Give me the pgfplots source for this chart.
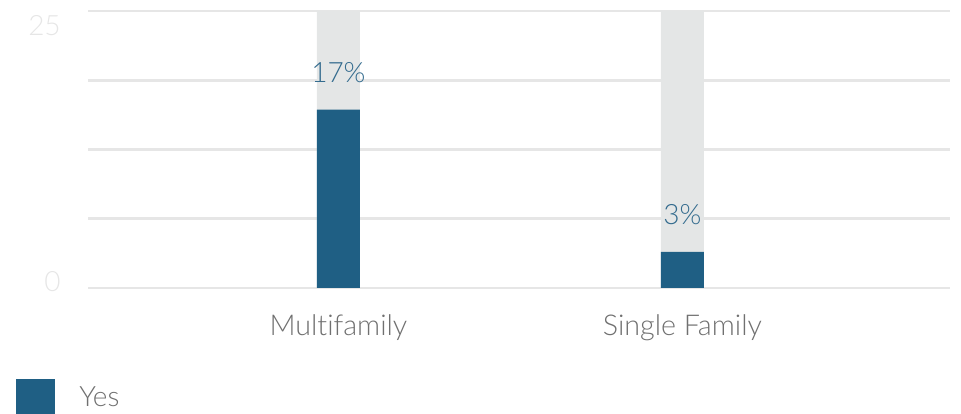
\documentclass[border=0pt]{standalone}
\usepackage{pgfplots}
\pgfplotsset{compat=1.18}
\usepackage{fontspec}
\setmainfont{Lato Light}[Ligatures=NoCommon]
\definecolor{barblue}{HTML}{1F5F84}
\definecolor{bargray}{HTML}{E4E6E6}
\definecolor{gridgray}{HTML}{E6E6E6}
\definecolor{ticklight}{HTML}{E6E6E6}
\definecolor{labgray}{HTML}{707070}
\definecolor{valblue}{HTML}{336B8E}
\begin{document}
\begin{tikzpicture}
\useasboundingbox (0pt,0pt) rectangle (720.75pt,310.5pt);
\begin{axis}[
  at={(66pt,94.5pt)}, anchor=south west,
  scale only axis, width=646.5pt, height=207.75pt,
  xmin=-0.728, xmax=1.778, ymin=0, ymax=25,
  axis line style={draw=none}, major tick length=0pt,
  xtick={0,1}, xticklabels={Multifamily, Single Family},
  xticklabel style={anchor=base, inner sep=0pt, yshift=-36pt, text=labgray, font=\fontsize{21.5}{25}\selectfont},
  ytick={0,22.83}, yticklabels={\raisebox{-3pt}{0}, 25\hspace{9pt}},
  yticklabel style={anchor=base east, inner sep=0pt, xshift=-20.25pt, text=ticklight, font=\fontsize{21}{25}\selectfont},
  extra y ticks={0,6.25,12.5,18.75,25}, extra y tick labels={},
  extra y tick style={grid=major, major grid style={draw=gridgray, line width=2pt}},
  ybar, bar width=32.25pt, clip=false,
]
\addplot[fill=bargray, draw=none, bar shift=0pt] coordinates {(0,25) (1,25)};
\addplot[fill=barblue, draw=none, bar shift=0pt,
  point meta=explicit symbolic, nodes near coords,
  nodes near coords style={anchor=center, yshift=27.75pt, text=valblue, font=\fontsize{21}{25}\selectfont}]
  coordinates {(0,16.1)[17\%] (1,3.25)[3\%]};
\end{axis}
\fill[barblue] (12pt,0pt) rectangle (41.25pt,26.25pt);
\node[anchor=base west, inner sep=0pt, text=labgray, font=\fontsize{21}{25}\selectfont] at (59.25pt,5.25pt) {Yes};
\end{tikzpicture}
\end{document}
